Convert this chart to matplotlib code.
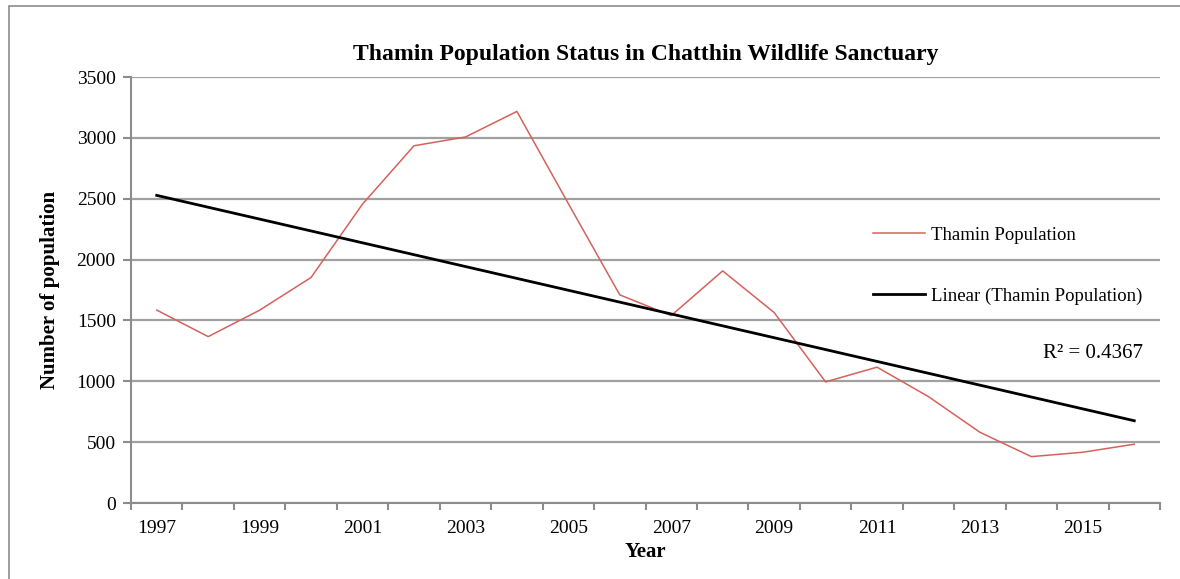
import numpy as np
import matplotlib.pyplot as plt
from matplotlib.patches import Rectangle

years = list(range(1997, 2017))
population = [1585, 1367, 1584, 1853, 2456, 2935, 3007, 3217, 2460, 1710,
              1540, 1907, 1565, 995, 1116, 874, 581, 381, 417, 483]
y_ticks = [0, 500, 1000, 1500, 2000, 2500, 3000, 3500]
x_labels = [str(y) for y in years[::2]]
r2_text = "R\u00b2 = 0.4367"

RED = "#d4625c"
GRID = "#a0a0a0"
AXIS = "#8c8c8c"


def main():
    plt.rcParams.update({
        "font.family": ["Liberation Serif", "DejaVu Serif"],
        "font.size": 14,
    })

    fig = plt.figure(figsize=(11.8, 5.79), dpi=100)
    fig.patches.append(Rectangle((9 / 1180, -0.1), 1.2, 1 - 6 / 579 + 0.1,
                                 transform=fig.transFigure, fill=False,
                                 edgecolor=AXIS, linewidth=1.2))

    ax = fig.add_axes([131 / 1180, 1 - 503 / 579, (1160 - 131) / 1180, (503 - 77) / 579])

    idx = np.arange(len(years))
    ax.plot(idx, population, color=RED, linewidth=1.1, label="Thamin Population")

    slope, intercept = np.polyfit(idx, population, 1)
    ax.plot(idx[[0, -1]], intercept + slope * idx[[0, -1]], color="black",
            linewidth=2, label="Linear (Thamin Population)")

    ax.set_xlim(-0.5, len(years) - 0.5)
    ax.set_ylim(0, 3500)
    ax.set_yticks(y_ticks)
    ax.yaxis.grid(True, color=GRID, linewidth=1.6)
    ax.set_axisbelow(True)

    ax.set_xticks(np.arange(-0.5, len(years)))
    ax.set_xticklabels([])
    ax.set_xticks(idx[::2], minor=True)
    ax.set_xticklabels(x_labels, minor=True)
    ax.tick_params(axis="x", which="major", length=5, width=1.5, color=AXIS, direction="out")
    ax.tick_params(axis="x", which="minor", length=0, pad=12, labelsize=14)
    ax.tick_params(axis="y", length=6, width=1.5, color=AXIS, pad=5, labelsize=14)

    for side in ["top", "right"]:
        ax.spines[side].set_visible(False)
    for side in ["left", "bottom"]:
        ax.spines[side].set_color(AXIS)
        ax.spines[side].set_linewidth(1.5)

    ax.set_title("Thamin Population Status in Chatthin Wildlife Sanctuary",
                 fontsize=17, fontweight="bold", pad=12)
    ax.set_xlabel("Year", fontsize=15, fontweight="bold", labelpad=4)
    ax.set_ylabel("Number of population", fontsize=15, fontweight="bold", labelpad=12)

    ax.legend(loc="center left", bbox_to_anchor=(0.7115, 0.557), frameon=False,
              fontsize=13.5, handlelength=2.8, handletextpad=0.3, labelspacing=2.35,
              borderpad=0)
    ax.text(0.9835, 0.35, r2_text, transform=ax.transAxes, ha="right",
            va="center", fontsize=15)

    fig.savefig("out.png", dpi=100)


if __name__ == "__main__":
    main()
